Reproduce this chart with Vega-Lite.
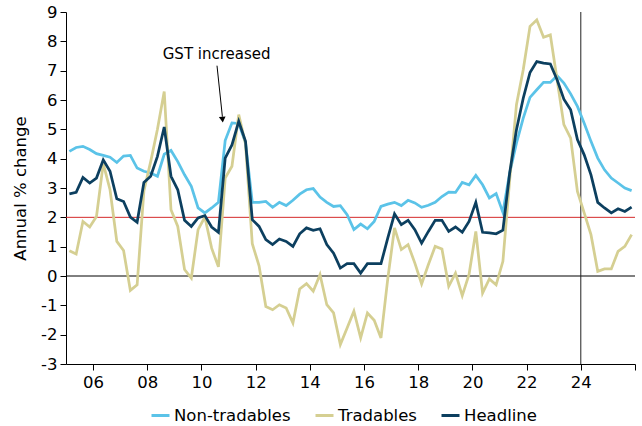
{
  "$schema": "https://vega.github.io/schema/vega-lite/v6.json",
  "width": 569,
  "height": 352,
  "autosize": {"type": "none"},
  "padding": {"left": 66, "top": 12, "right": 7, "bottom": 62},
  "config": {"font": "DejaVu Sans", "view": {"stroke": null}, "axis": {"labelOverlap": false, "labelFlush": false}},
  "datasets": {
    "series": [
      {"t": 2005.125, "Non-tradables": 4.25, "Tradables": 0.86, "Headline": 2.80},
      {"t": 2005.375, "Non-tradables": 4.38, "Tradables": 0.75, "Headline": 2.85},
      {"t": 2005.625, "Non-tradables": 4.42, "Tradables": 1.86, "Headline": 3.36},
      {"t": 2005.875, "Non-tradables": 4.31, "Tradables": 1.67, "Headline": 3.17},
      {"t": 2006.125, "Non-tradables": 4.17, "Tradables": 2.03, "Headline": 3.34},
      {"t": 2006.375, "Non-tradables": 4.11, "Tradables": 3.83, "Headline": 3.96},
      {"t": 2006.625, "Non-tradables": 4.05, "Tradables": 2.94, "Headline": 3.57},
      {"t": 2006.875, "Non-tradables": 3.87, "Tradables": 1.18, "Headline": 2.63},
      {"t": 2007.125, "Non-tradables": 4.09, "Tradables": 0.87, "Headline": 2.54},
      {"t": 2007.375, "Non-tradables": 4.11, "Tradables": -0.49, "Headline": 2.01},
      {"t": 2007.625, "Non-tradables": 3.68, "Tradables": -0.30, "Headline": 1.83},
      {"t": 2007.875, "Non-tradables": 3.57, "Tradables": 2.90, "Headline": 3.19},
      {"t": 2008.125, "Non-tradables": 3.51, "Tradables": 3.90, "Headline": 3.40},
      {"t": 2008.375, "Non-tradables": 3.40, "Tradables": 5.00, "Headline": 4.08},
      {"t": 2008.625, "Non-tradables": 4.15, "Tradables": 6.29, "Headline": 5.08},
      {"t": 2008.875, "Non-tradables": 4.28, "Tradables": 2.26, "Headline": 3.40},
      {"t": 2009.125, "Non-tradables": 3.90, "Tradables": 1.69, "Headline": 2.94},
      {"t": 2009.375, "Non-tradables": 3.45, "Tradables": 0.22, "Headline": 1.90},
      {"t": 2009.625, "Non-tradables": 3.06, "Tradables": -0.07, "Headline": 1.69},
      {"t": 2009.875, "Non-tradables": 2.32, "Tradables": 1.58, "Headline": 1.98},
      {"t": 2010.125, "Non-tradables": 2.15, "Tradables": 2.01, "Headline": 2.06},
      {"t": 2010.375, "Non-tradables": 2.32, "Tradables": 0.95, "Headline": 1.67},
      {"t": 2010.625, "Non-tradables": 2.51, "Tradables": 0.31, "Headline": 1.49},
      {"t": 2010.875, "Non-tradables": 4.62, "Tradables": 3.34, "Headline": 4.02},
      {"t": 2011.125, "Non-tradables": 5.22, "Tradables": 3.74, "Headline": 4.47},
      {"t": 2011.375, "Non-tradables": 5.20, "Tradables": 5.50, "Headline": 5.27},
      {"t": 2011.625, "Non-tradables": 4.55, "Tradables": 4.50, "Headline": 4.59},
      {"t": 2011.875, "Non-tradables": 2.51, "Tradables": 1.10, "Headline": 1.92},
      {"t": 2012.125, "Non-tradables": 2.51, "Tradables": 0.35, "Headline": 1.69},
      {"t": 2012.375, "Non-tradables": 2.54, "Tradables": -1.04, "Headline": 1.24},
      {"t": 2012.625, "Non-tradables": 2.34, "Tradables": -1.15, "Headline": 1.07},
      {"t": 2012.875, "Non-tradables": 2.51, "Tradables": -0.98, "Headline": 1.26},
      {"t": 2013.125, "Non-tradables": 2.40, "Tradables": -1.09, "Headline": 1.18},
      {"t": 2013.375, "Non-tradables": 2.58, "Tradables": -1.60, "Headline": 1.01},
      {"t": 2013.625, "Non-tradables": 2.79, "Tradables": -0.44, "Headline": 1.44},
      {"t": 2013.875, "Non-tradables": 2.94, "Tradables": -0.26, "Headline": 1.64},
      {"t": 2014.125, "Non-tradables": 2.98, "Tradables": -0.52, "Headline": 1.56},
      {"t": 2014.375, "Non-tradables": 2.69, "Tradables": 0.05, "Headline": 1.61},
      {"t": 2014.625, "Non-tradables": 2.51, "Tradables": -0.98, "Headline": 1.07},
      {"t": 2014.875, "Non-tradables": 2.37, "Tradables": -1.26, "Headline": 0.78},
      {"t": 2015.125, "Non-tradables": 2.40, "Tradables": -2.34, "Headline": 0.27},
      {"t": 2015.375, "Non-tradables": 2.09, "Tradables": -1.77, "Headline": 0.42},
      {"t": 2015.625, "Non-tradables": 1.58, "Tradables": -1.20, "Headline": 0.42},
      {"t": 2015.875, "Non-tradables": 1.77, "Tradables": -2.11, "Headline": 0.10},
      {"t": 2016.125, "Non-tradables": 1.61, "Tradables": -1.26, "Headline": 0.42},
      {"t": 2016.375, "Non-tradables": 1.86, "Tradables": -1.51, "Headline": 0.42},
      {"t": 2016.625, "Non-tradables": 2.37, "Tradables": -2.11, "Headline": 0.42},
      {"t": 2016.875, "Non-tradables": 2.45, "Tradables": -0.10, "Headline": 1.29},
      {"t": 2017.125, "Non-tradables": 2.51, "Tradables": 1.64, "Headline": 2.12},
      {"t": 2017.375, "Non-tradables": 2.40, "Tradables": 0.90, "Headline": 1.75},
      {"t": 2017.625, "Non-tradables": 2.58, "Tradables": 1.07, "Headline": 1.90},
      {"t": 2017.875, "Non-tradables": 2.49, "Tradables": 0.44, "Headline": 1.58},
      {"t": 2018.125, "Non-tradables": 2.34, "Tradables": -0.27, "Headline": 1.12},
      {"t": 2018.375, "Non-tradables": 2.41, "Tradables": 0.39, "Headline": 1.52},
      {"t": 2018.625, "Non-tradables": 2.51, "Tradables": 1.01, "Headline": 1.90},
      {"t": 2018.875, "Non-tradables": 2.71, "Tradables": 0.92, "Headline": 1.90},
      {"t": 2019.125, "Non-tradables": 2.86, "Tradables": -0.35, "Headline": 1.52},
      {"t": 2019.375, "Non-tradables": 2.85, "Tradables": 0.10, "Headline": 1.67},
      {"t": 2019.625, "Non-tradables": 3.19, "Tradables": -0.67, "Headline": 1.49},
      {"t": 2019.875, "Non-tradables": 3.11, "Tradables": 0.05, "Headline": 1.86},
      {"t": 2020.125, "Non-tradables": 3.43, "Tradables": 1.52, "Headline": 2.51},
      {"t": 2020.375, "Non-tradables": 3.11, "Tradables": -0.58, "Headline": 1.49},
      {"t": 2020.625, "Non-tradables": 2.66, "Tradables": -0.10, "Headline": 1.47},
      {"t": 2020.875, "Non-tradables": 2.81, "Tradables": -0.30, "Headline": 1.44},
      {"t": 2021.125, "Non-tradables": 2.17, "Tradables": 0.50, "Headline": 1.56},
      {"t": 2021.375, "Non-tradables": 3.51, "Tradables": 3.28, "Headline": 3.51},
      {"t": 2021.625, "Non-tradables": 4.53, "Tradables": 5.84, "Headline": 4.99},
      {"t": 2021.875, "Non-tradables": 5.38, "Tradables": 7.03, "Headline": 6.06},
      {"t": 2022.125, "Non-tradables": 6.09, "Tradables": 8.51, "Headline": 6.94},
      {"t": 2022.375, "Non-tradables": 6.35, "Tradables": 8.73, "Headline": 7.31},
      {"t": 2022.625, "Non-tradables": 6.60, "Tradables": 8.14, "Headline": 7.26},
      {"t": 2022.875, "Non-tradables": 6.60, "Tradables": 8.22, "Headline": 7.23},
      {"t": 2023.125, "Non-tradables": 6.83, "Tradables": 6.69, "Headline": 6.69},
      {"t": 2023.375, "Non-tradables": 6.58, "Tradables": 5.16, "Headline": 6.03},
      {"t": 2023.625, "Non-tradables": 6.21, "Tradables": 4.70, "Headline": 5.67},
      {"t": 2023.875, "Non-tradables": 5.78, "Tradables": 2.88, "Headline": 4.65},
      {"t": 2024.125, "Non-tradables": 5.21, "Tradables": 2.15, "Headline": 4.13},
      {"t": 2024.375, "Non-tradables": 4.59, "Tradables": 1.41, "Headline": 3.45},
      {"t": 2024.625, "Non-tradables": 4.02, "Tradables": 0.16, "Headline": 2.51},
      {"t": 2024.875, "Non-tradables": 3.62, "Tradables": 0.24, "Headline": 2.32},
      {"t": 2025.125, "Non-tradables": 3.34, "Tradables": 0.24, "Headline": 2.15},
      {"t": 2025.375, "Non-tradables": 3.17, "Tradables": 0.84, "Headline": 2.29},
      {"t": 2025.625, "Non-tradables": 3.00, "Tradables": 1.01, "Headline": 2.20},
      {"t": 2025.875, "Non-tradables": 2.91, "Tradables": 1.41, "Headline": 2.35}
    ]
  },
  "layer": [
    {
      "data": {"name": "series"},
      "transform": [{"fold": ["Non-tradables", "Tradables", "Headline"], "as": ["series", "value"]}],
      "mark": {"type": "line", "strokeWidth": 0, "opacity": 0},
      "encoding": {
        "x": {
          "field": "t", "type": "quantitative",
          "scale": {"domain": [2005, 2026], "nice": false, "zero": false},
          "axis": {
            "values": [2006, 2008, 2010, 2012, 2014, 2016, 2018, 2020, 2022, 2024, 2026],
            "tickCount": 20,
            "labelExpr": "datum.value == 2026 ? '' : slice(toString(datum.value), 2)",
            "grid": false, "title": null, "labelOverlap": false, "labelFlush": false,
            "domainColor": "#000000", "tickColor": "#000000", "labelColor": "#000000",
            "tickSize": 6, "labelPadding": 4, "labelFontSize": 16.5, "labelFont": "DejaVu Sans"
          }
        },
        "y": {
          "field": "value", "type": "quantitative",
          "scale": {"domain": [-3, 9], "nice": false},
          "axis": {
            "values": [-3, -2, -1, 0, 1, 2, 3, 4, 5, 6, 7, 8, 9],
            "tickCount": 20,
            "labelExpr": "toString(datum.value)",
            "grid": false, "title": "Annual % change", "labelOverlap": false, "labelFlush": false,
            "titleFontWeight": "normal", "titleFontSize": 16.5, "titleColor": "#000000", "titleFont": "DejaVu Sans",
            "titlePadding": 12,
            "domainColor": "#000000", "tickColor": "#000000", "labelColor": "#000000",
            "tickSize": 6, "labelPadding": 3, "labelFontSize": 16.5, "labelFont": "DejaVu Sans"
          }
        }
      }
    },
    {
      "data": {"values": [{"v": 2}]},
      "mark": {"type": "rule", "color": "#D42A2A", "strokeWidth": 1},
      "encoding": {"y": {"field": "v", "type": "quantitative"}}
    },
    {
      "data": {"values": [{"v": 0}]},
      "mark": {"type": "rule", "color": "#000000", "strokeWidth": 1},
      "encoding": {"y": {"field": "v", "type": "quantitative"}}
    },
    {
      "data": {"values": [{"v": 2024}]},
      "mark": {"type": "rule", "color": "#222222", "strokeWidth": 1},
      "encoding": {"x": {"field": "v", "type": "quantitative"}}
    },
    {
      "data": {"name": "series"},
      "transform": [{"fold": ["Non-tradables", "Tradables", "Headline"], "as": ["series", "value"]}],
      "mark": {"type": "line", "strokeWidth": 2.75},
      "encoding": {
        "x": {"field": "t", "type": "quantitative"},
        "y": {"field": "value", "type": "quantitative"},
        "color": {
          "field": "series", "type": "nominal",
          "scale": {"domain": ["Non-tradables", "Tradables", "Headline"], "range": ["#5BC3E8", "#D5CF92", "#0C3F5F"]},
          "legend": {
            "title": null, "orient": "none", "legendX": 84, "legendY": 393, "direction": "horizontal",
            "symbolType": "stroke", "symbolSize": 324, "symbolStrokeWidth": 3,
            "labelFontSize": 16.5, "labelFont": "DejaVu Sans", "labelColor": "#000000",
            "labelOffset": 3, "columnPadding": 18, "padding": 0
          }
        }
      }
    },
    {
      "data": {"values": [{"x": 2010.573, "y": 7.17, "x2": 2010.772, "y2": 5.43}]},
      "mark": {"type": "rule", "color": "#000000", "strokeWidth": 1},
      "encoding": {
        "x": {"field": "x", "type": "quantitative"},
        "y": {"field": "y", "type": "quantitative"},
        "x2": {"field": "x2"},
        "y2": {"field": "y2"}
      }
    },
    {
      "data": {"values": [{"x": 2010.776, "y": 5.33}]},
      "mark": {"type": "point", "shape": "triangle-down", "filled": true, "color": "#000000", "size": 45, "opacity": 1, "angle": 354},
      "encoding": {
        "x": {"field": "x", "type": "quantitative"},
        "y": {"field": "y", "type": "quantitative"}
      }
    },
    {
      "data": {"values": [{"x": 2010.56, "y": 7.57, "label": "GST increased"}]},
      "mark": {"type": "text", "fontSize": 15, "color": "#000000", "align": "center", "baseline": "middle", "font": "DejaVu Sans"},
      "encoding": {
        "x": {"field": "x", "type": "quantitative"},
        "y": {"field": "y", "type": "quantitative"},
        "text": {"field": "label"}
      }
    }
  ]
}
